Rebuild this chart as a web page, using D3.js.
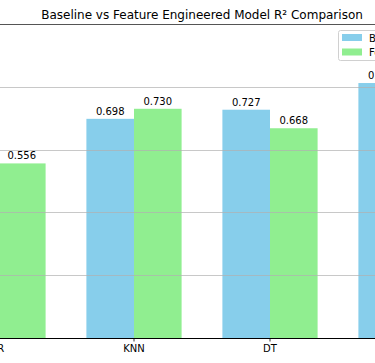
<!DOCTYPE html>
<html>
<head>
<meta charset="utf-8">
<script src="https://cdn.jsdelivr.net/npm/d3@7"></script>
<style>
  html, body { margin: 0; padding: 0; background: #ffffff; }
  svg { display: block; }
  text { font-family: "DejaVu Sans", sans-serif; fill: #000; }
</style>
</head>
<body>
<svg id="chart" width="375" height="363"></svg>
<script>
const categories = ["LR", "KNN", "DT", "RF"];
const baselineValues = [0.550, 0.698, 0.727, 0.812];
const featureValues = [0.556, 0.730, 0.668, 0.805];
const seriesNames = ["Baseline", "Feature Engineered"];
const yTicks = [0.2, 0.4, 0.6, 0.8];
const titleText = "Baseline vs Feature Engineered Model R\u00B2 Comparison";

const W = 375, H = 363;
const svg = d3.select("#chart");

const x = d3.scaleBand().domain(categories).range([-70, 474]).padding(0);
const y = d3.scaleLinear().domain([0, 1.0]).range([338, 24]);
const barW = x.bandwidth() * 0.35;
const colors = ["#87CEEB", "#90EE90"];

const data = categories.map((c, i) => ({ c, vals: [baselineValues[i], featureValues[i]] }));

// bars
const g = svg.append("g");
data.forEach(d => {
  const cx = x(d.c) + x.bandwidth() / 2;
  d.vals.forEach((v, k) => {
    const x0 = k === 0 ? cx - barW : cx;
    g.append("rect")
      .attr("x", x0).attr("y", y(v))
      .attr("width", barW).attr("height", y(0) - y(v))
      .attr("fill", colors[k]);
  });
});

// gridlines (above bars, like matplotlib default)
svg.append("g").selectAll("line").data(yTicks).join("line")
  .attr("x1", 0).attr("x2", W)
  .attr("y1", d => Math.round(y(d)) + 0.5).attr("y2", d => Math.round(y(d)) + 0.5)
  .attr("stroke", "#b0b0b0").attr("stroke-opacity", 0.7).attr("stroke-width", 1);

// value labels
data.forEach(d => {
  const cx = x(d.c) + x.bandwidth() / 2;
  d.vals.forEach((v, k) => {
    const tx = k === 0 ? cx - barW / 2 : cx + barW / 2;
    svg.append("text")
      .attr("x", tx).attr("y", y(v) - 4)
      .attr("text-anchor", "middle")
      .attr("font-size", 10)
      .text(v.toFixed(3));
  });
});

// top spine
svg.append("line").attr("x1", 0).attr("x2", W).attr("y1", y(1) + 0.5).attr("y2", y(1) + 0.5)
  .attr("stroke", "#555").attr("stroke-width", 1);

// bottom axis
const xAxis = d3.axisBottom(x).tickSize(3.5).tickPadding(3.5);
const ax = svg.append("g").attr("transform", `translate(0,${y(0)})`).call(xAxis);
ax.select(".domain").remove();
ax.selectAll("text").attr("font-size", 10).attr("font-family", "DejaVu Sans, sans-serif").attr("fill", "#000");
ax.selectAll("line").attr("stroke", "#000").attr("stroke-width", 0.8);
svg.append("line").attr("x1", 0).attr("x2", W).attr("y1", y(0) + 0.5).attr("y2", y(0) + 0.5)
  .attr("stroke", "#000").attr("stroke-width", 1);

// title
svg.append("text")
  .attr("x", 202).attr("y", 19)
  .attr("text-anchor", "middle")
  .attr("font-size", 12)
  .text(titleText);

// legend
const lg = svg.append("g").attr("transform", "translate(338,30)");
lg.append("rect").attr("x", 0.5).attr("y", 0.5).attr("width", 140).attr("height", 30)
  .attr("rx", 2).attr("fill", "#fff").attr("fill-opacity", 0.8)
  .attr("stroke", "#d0d0d0").attr("stroke-width", 1);
seriesNames.forEach((n, i) => {
  lg.append("rect").attr("x", 4).attr("y", 4 + i * 14.5).attr("width", 20).attr("height", 7)
    .attr("fill", colors[i]);
  lg.append("text").attr("x", 31).attr("y", 11.5 + i * 14.5).attr("font-size", 10).text(n);
});
</script>
</body>
</html>
